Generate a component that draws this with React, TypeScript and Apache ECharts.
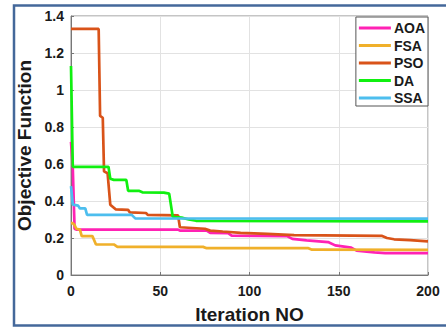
import React, { useEffect, useRef } from "react";
import * as echarts from "echarts";

const seriesNames = ["AOA", "FSA", "PSO", "DA", "SSA"];
const seriesColors = ["#FF22B4", "#F0B02A", "#D95319", "#10F010", "#4DBEEE"];

const aoa: number[][] = [[0, 0.72], [1, 0.58], [2, 0.25], [3, 0.245], [60, 0.245], [61, 0.24], [76, 0.24], [78, 0.228], [88, 0.226], [90, 0.213], [121, 0.21], [124, 0.195], [132, 0.187], [144, 0.178], [148, 0.16], [154, 0.152], [157, 0.148], [160, 0.132], [170, 0.122], [176, 0.118], [200, 0.118]];
const fsa: number[][] = [[0, 0.28], [1, 0.28], [2, 0.27], [3, 0.25], [5, 0.245], [6, 0.21], [12, 0.21], [14, 0.165], [24, 0.165], [26, 0.152], [74, 0.152], [76, 0.145], [133, 0.145], [135, 0.137], [200, 0.136]];
const pso: number[][] = [[0, 1.33], [15.5, 1.33], [16.3, 0.86], [17.8, 0.85], [18.5, 0.56], [20.5, 0.55], [22, 0.38], [25, 0.355], [32, 0.352], [33, 0.338], [42, 0.335], [43, 0.325], [60, 0.322], [61, 0.258], [75, 0.25], [78, 0.24], [85, 0.235], [95, 0.228], [110, 0.222], [125, 0.216], [174, 0.212], [177, 0.2], [181, 0.193], [190, 0.188], [200, 0.182]];
const da: number[][] = [[0, 1.13], [1, 0.585], [21, 0.585], [22, 0.52], [24, 0.514], [31, 0.514], [32, 0.455], [38, 0.455], [40, 0.447], [52, 0.445], [55, 0.44], [57, 0.315], [62, 0.31], [66, 0.3], [70, 0.293], [200, 0.29]];
const ssa: number[][] = [[0, 0.48], [1, 0.38], [4, 0.375], [5, 0.36], [8, 0.36], [9, 0.325], [34, 0.325], [36, 0.306], [200, 0.305]];

const allData = [aoa, fsa, pso, da, ssa];

const xTicks = { min: 0, max: 200, interval: 50 };
const yTicks = { min: 0, max: 1.4, interval: 0.2 };

const FONT = "'Liberation Sans', Arial, Helvetica, sans-serif";

export default function App() {
  const ref = useRef<HTMLDivElement>(null);
  useEffect(() => {
    if (!ref.current) return;
    const chart = echarts.init(ref.current, undefined, { renderer: "svg" });
    chart.setOption({
      animation: false,
      backgroundColor: "#ffffff",
      grid: {
        left: 71,
        right: 18,
        top: 16,
        bottom: 54,
        show: true,
        borderColor: "#8a8a8a",
        borderWidth: 1,
        backgroundColor: "transparent",
      },
      legend: {
        orient: "vertical",
        right: 18,
        top: 17,
        padding: [4, 3, 1, 3],
        itemWidth: 32,
        itemHeight: 3,
        itemGap: 3.5,
        icon: "rect",
        backgroundColor: "#ffffff",
        borderColor: "#555555",
        borderWidth: 1,
        borderRadius: 0,
        data: seriesNames,
        textStyle: {
          fontFamily: FONT,
          fontWeight: "bold",
          fontSize: 14,
          lineHeight: 14,
          color: "#1a1a1a",
          padding: [0, 0, 0, -2],
        },
      },
      xAxis: {
        type: "value",
        min: xTicks.min,
        max: xTicks.max,
        interval: xTicks.interval,
        name: "Iteration NO",
        nameLocation: "middle",
        nameGap: 30,
        nameTextStyle: { fontFamily: FONT, fontWeight: "bold", fontSize: 19, color: "#1a1a1a" },
        axisLine: { lineStyle: { color: "#777", width: 1 } },
        axisTick: { show: true, inside: true, length: 3, lineStyle: { color: "#777" } },
        axisLabel: { fontFamily: FONT, fontWeight: "bold", fontSize: 14, color: "#1a1a1a", margin: 9 },
        splitLine: { show: true, lineStyle: { color: "#e2e2e2", width: 1 } },
      },
      yAxis: {
        type: "value",
        min: yTicks.min,
        max: yTicks.max,
        interval: yTicks.interval,
        name: "Objective Function",
        nameLocation: "middle",
        nameGap: 31,
        nameTextStyle: { fontFamily: FONT, fontWeight: "bold", fontSize: 19, color: "#1a1a1a" },
        axisLine: { show: true, lineStyle: { color: "#777", width: 1 } },
        axisTick: { show: true, inside: true, length: 3, lineStyle: { color: "#777" } },
        axisLabel: { fontFamily: FONT, fontWeight: "bold", fontSize: 14, color: "#1a1a1a", margin: 7 },
        splitLine: { show: true, lineStyle: { color: "#e2e2e2", width: 1 } },
      },
      series: seriesNames.map((name, i) => ({
        name,
        type: "line",
        data: allData[i],
        showSymbol: false,
        symbol: "none",
        color: seriesColors[i],
        lineStyle: { width: 2.7, color: seriesColors[i] },
        z: 2 + i,
      })),
      graphic: [
        {
          type: "rect",
          shape: { x: 14, y: 5.5, width: 460, height: 320 },
          style: { fill: "none", stroke: "#44689a", lineWidth: 2.5 },
          silent: true,
          z: 100,
        },
      ],
    });
    return () => chart.dispose();
  }, []);
  return (
    <div
      ref={ref}
      style={{ position: "fixed", left: 0, top: 0, width: 446, height: 329 }}
    />
  );
}
